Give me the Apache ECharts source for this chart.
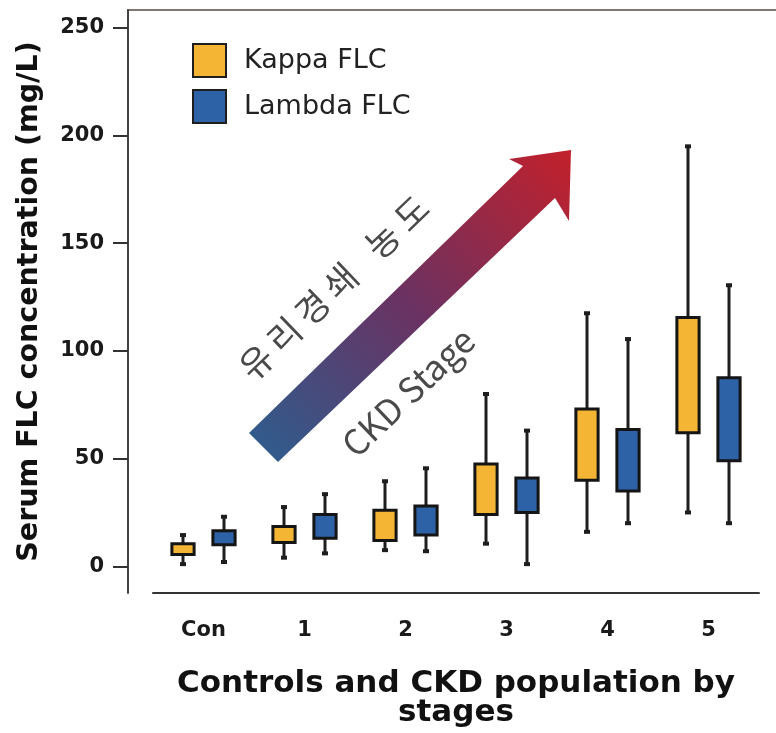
<!DOCTYPE html>
<html>
<head>
<meta charset="utf-8">
<script src="https://cdn.jsdelivr.net/npm/echarts@6/dist/echarts.min.js"></script>
<style>
  html, body { margin: 0; padding: 0; background: #fff; overflow: hidden; }
  #main { width: 776px; height: 733px; display: block; }
</style>
</head>
<body>
<div id="main"></div>
<script>
// 분기별 데이터 (값은 그림에서 읽음)
var categories = ['Con', '1', '2', '3', '4', '5'];
var yTicks = [0, 50, 100, 150, 200, 250];

// Kappa FLC: whisker min, Q1, Q3, whisker max
var kappaMin = [1, 4, 7.5, 10.5, 16, 25];
var kappaQ1 = [5.5, 11, 12, 24, 40, 62];
var kappaQ3 = [10.5, 18.5, 26, 47.5, 73, 115.5];
var kappaMax = [14.5, 27.5, 39.5, 80, 117.5, 195];

// Lambda FLC
var lambdaMin = [2, 6, 7, 1, 20, 20];
var lambdaQ1 = [10, 13, 14.5, 25, 35, 49];
var lambdaQ3 = [16.5, 24, 28, 41, 63.5, 87.5];
var lambdaMax = [23, 33.5, 45.5, 63, 105.5, 130.5];

var kappaColor = '#f3b533';
var lambdaColor = '#2d62a6';

function rows(mn, q1, q3, mx) {
  return categories.map(function (c, i) {
    return [i, mn[i], q1[i], q3[i], mx[i]];
  });
}

function boxRenderer(shift) {
  return function (params, api) {
    var band = api.size([1, 0])[0];
    var cx = api.coord([api.value(0), 0])[0] + shift * band;
    var pMin = api.coord([api.value(0), api.value(1)])[1];
    var pQ1 = api.coord([api.value(0), api.value(2)])[1];
    var pQ3 = api.coord([api.value(0), api.value(3)])[1];
    var pMax = api.coord([api.value(0), api.value(4)])[1];
    var w = band * 0.22;
    var line = { stroke: '#1e1e1e', lineWidth: 3 };
    return {
      type: 'group',
      children: [
        { type: 'line', shape: { x1: cx, y1: pMax, x2: cx, y2: pMin }, style: line },
        { type: 'line', shape: { x1: cx - 3, y1: pMax, x2: cx + 3, y2: pMax }, style: { stroke: '#1e1e1e', lineWidth: 4 } },
        { type: 'line', shape: { x1: cx - 3, y1: pMin, x2: cx + 3, y2: pMin }, style: { stroke: '#1e1e1e', lineWidth: 4 } },
        {
          type: 'rect',
          shape: { x: cx - w / 2, y: pQ3, width: w, height: pQ1 - pQ3 },
          style: { fill: api.visual('color'), stroke: '#151515', lineWidth: 3 }
        }
      ]
    };
  };
}

// 화살표 위 한글 글자 (글자 간격이 넓어서 한 글자씩 배치)
var arrowWords = ['유', '리', '경', '쇄', '농', '도'];
var arrowWordPos = [-108, -69, -30, 9, 67, 107];

var myChart = echarts.init(document.getElementById('main'));

var option = {
  backgroundColor: '#fff',
  animation: false,
  grid: { left: 153, right: 17, top: 10, bottom: 133, containLabel: false },
  legend: {
    orient: 'vertical',
    left: 192,
    top: 43,
    padding: 0,
    icon: 'rect',
    itemWidth: 33,
    itemHeight: 33,
    itemGap: 11,
    itemStyle: { borderColor: '#1e1e1e', borderWidth: 2 },
    textStyle: { fontFamily: 'DejaVu Sans', fontSize: 27, color: '#222', padding: [0, 0, 0, 13] },
    data: ['Kappa FLC', 'Lambda FLC']
  },
  xAxis: {
    type: 'category',
    data: categories,
    boundaryGap: true,
    axisLine: { onZero: false, lineStyle: { color: '#333', width: 2 } },
    axisTick: { alignWithLabel: true, length: 12, lineStyle: { color: '#333', width: 2 } },
    axisLabel: { fontFamily: 'DejaVu Sans', fontWeight: 'bold', fontSize: 21, color: '#1a1a1a', margin: 27 },
    name: 'Controls and CKD population by\nstages',
    nameLocation: 'middle',
    nameGap: 76,
    nameTextStyle: { fontFamily: 'DejaVu Sans', fontWeight: 'bold', fontSize: 31, lineHeight: 29, color: '#111' }
  },
  yAxis: {
    type: 'value',
    min: -12.4,
    max: 258.3,
    offset: 25,
    splitLine: { show: false },
    axisLine: { show: true, lineStyle: { color: '#444', width: 2 } },
    axisTick: { show: true, length: 15, customValues: yTicks, lineStyle: { color: '#333', width: 2 } },
    axisLabel: { customValues: yTicks, fontFamily: 'DejaVu Sans', fontWeight: 'bold', fontSize: 21, color: '#1a1a1a', margin: 24 },
    name: 'Serum FLC concentration (mg/L)',
    nameLocation: 'middle',
    nameGap: 84,
    nameTextStyle: { fontFamily: 'DejaVu Sans', fontWeight: 'bold', fontSize: 28.5, color: '#111' }
  },
  graphic: [
    { type: 'line', shape: { x1: 127, y1: 10, x2: 776, y2: 10 }, style: { stroke: '#7f7773', lineWidth: 2 }, silent: true },
    {
      type: 'polygon',
      silent: true,
      shape: {
        points: [[249, 433], [278, 462], [555, 198], [569, 221], [571, 150], [509, 159], [523, 166]]
      },
      style: {
        fill: new echarts.graphic.LinearGradient(0, 1, 1, 0, [
          { offset: 0, color: '#2b5f90' },
          { offset: 0.5, color: '#6a3262' },
          { offset: 1, color: '#c3202b' }
        ])
      }
    },
    {
      type: 'group',
      x: 334, y: 287,
      rotation: 0.763,
      silent: true,
      children: arrowWords.map(function (ch, i) {
        return {
          type: 'text',
          x: arrowWordPos[i], y: 0,
          style: { text: ch, fontFamily: 'Noto Sans CJK KR', fontSize: 35, fill: '#4a4a4a', align: 'center', verticalAlign: 'middle' }
        };
      })
    },
    {
      type: 'text',
      x: 408, y: 392,
      rotation: 0.763,
      silent: true,
      style: { text: 'CKD Stage', fontFamily: 'Noto Sans CJK KR', fontSize: 35, fill: '#4a4a4a', align: 'center', verticalAlign: 'middle' }
    }
  ],
  series: [
    {
      name: 'Kappa FLC',
      type: 'custom',
      itemStyle: { color: kappaColor },
      renderItem: boxRenderer(-0.203),
      encode: { x: 0, y: [1, 2, 3, 4] },
      data: rows(kappaMin, kappaQ1, kappaQ3, kappaMax)
    },
    {
      name: 'Lambda FLC',
      type: 'custom',
      itemStyle: { color: lambdaColor },
      renderItem: boxRenderer(0.203),
      encode: { x: 0, y: [1, 2, 3, 4] },
      data: rows(lambdaMin, lambdaQ1, lambdaQ3, lambdaMax)
    }
  ]
};

myChart.setOption(option);
</script>
</body>
</html>
